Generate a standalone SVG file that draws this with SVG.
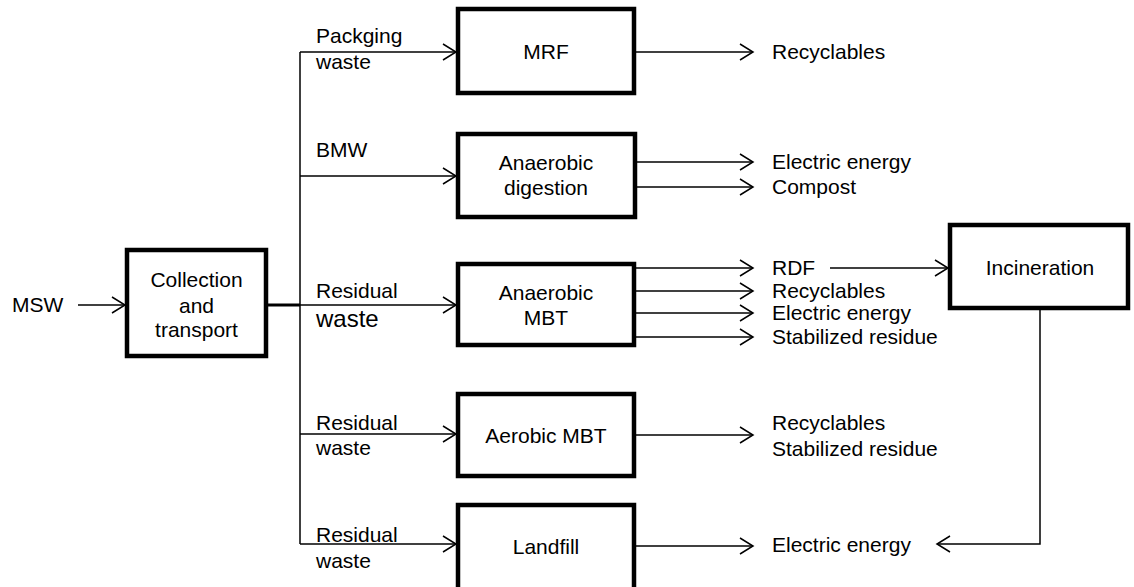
<svg xmlns="http://www.w3.org/2000/svg" width="1134" height="587" viewBox="0 0 1134 587">
<defs>
<marker id="arr" markerUnits="userSpaceOnUse" viewBox="-1 -1 16 18" refX="13" refY="8" markerWidth="16" markerHeight="18" orient="auto">
<path d="M0,0 L13,8 L0,16" fill="none" stroke="#000" stroke-width="1.5"/>
</marker>
</defs>
<style>
text{font-family:"Liberation Sans",Arial,sans-serif;font-size:21px;fill:#000}
.box rect{fill:#fff;stroke:#000;stroke-width:4.5}
.c{text-anchor:middle}
#connectors path{fill:none;stroke:#000;stroke-width:1.5}
#connectors .a{marker-end:url(#arr)}
</style>
<rect width="1134" height="587" fill="#fff"/>
<g id="connectors">
<path class="a" d="M78,305 H125"/>
<path d="M268,305 H300" style="stroke-width:3"/>
<path d="M300,52 V544"/>
<path class="a" d="M300,52 H456"/>
<path class="a" d="M300,176 H456"/>
<path class="a" d="M300,305 H456"/>
<path class="a" d="M300,434 H456"/>
<path class="a" d="M300,544 H456"/>
<path class="a" d="M636,52 H753"/>
<path class="a" d="M637,162 H753"/>
<path class="a" d="M637,187 H753"/>
<path class="a" d="M636,268 H753"/>
<path class="a" d="M636,291 H753"/>
<path class="a" d="M636,313 H753"/>
<path class="a" d="M636,337 H753"/>
<path class="a" d="M636,435 H753"/>
<path class="a" d="M636,546 H753"/>
<path class="a" d="M830,268 H948"/>
<path class="a" d="M1040,310 V544 H937"/>
</g>
<g id="msw"><text x="12" y="312">MSW</text></g>
<g id="collection" class="box">
<rect x="127" y="250" width="139" height="106"/>
<text class="c" x="196.5" y="287">Collection</text>
<text class="c" x="196.5" y="313">and</text>
<text class="c" x="196.5" y="337">transport</text>
</g>
<g id="labels">
<text x="316" y="43">Packging</text>
<text x="316" y="69">waste</text>
<text x="316" y="157">BMW</text>
<text x="316" y="298">Residual</text>
<text x="316" y="327" style="font-size:24px">waste</text>
<text x="316" y="430">Residual</text>
<text x="316" y="455">waste</text>
<text x="316" y="542">Residual</text>
<text x="316" y="568">waste</text>
</g>
<g id="mrf" class="box">
<rect x="458" y="9" width="176" height="84"/>
<text class="c" x="546" y="59">MRF</text>
</g>
<g id="ad" class="box">
<rect x="458" y="134" width="177" height="83"/>
<text class="c" x="546" y="170">Anaerobic</text>
<text class="c" x="546" y="195">digestion</text>
</g>
<g id="mbt" class="box">
<rect x="458" y="264" width="176" height="81"/>
<text class="c" x="546" y="300">Anaerobic</text>
<text class="c" x="546" y="325">MBT</text>
</g>
<g id="aerobic" class="box">
<rect x="458" y="394" width="176" height="82"/>
<text class="c" x="546" y="443">Aerobic MBT</text>
</g>
<g id="landfill" class="box">
<rect x="458" y="505" width="176" height="100"/>
<text class="c" x="546" y="554">Landfill</text>
</g>
<g id="incineration" class="box">
<rect x="950" y="225" width="178" height="83"/>
<text class="c" x="1040" y="275">Incineration</text>
</g>
<g id="outputs">
<text x="772" y="59">Recyclables</text>
<text x="772" y="169">Electric energy</text>
<text x="772" y="194">Compost</text>
<text x="772" y="275">RDF</text>
<text x="772" y="298">Recyclables</text>
<text x="772" y="320">Electric energy</text>
<text x="772" y="344">Stabilized residue</text>
<text x="772" y="430">Recyclables</text>
<text x="772" y="456">Stabilized residue</text>
<text x="772" y="552">Electric energy</text>
</g>
</svg>
